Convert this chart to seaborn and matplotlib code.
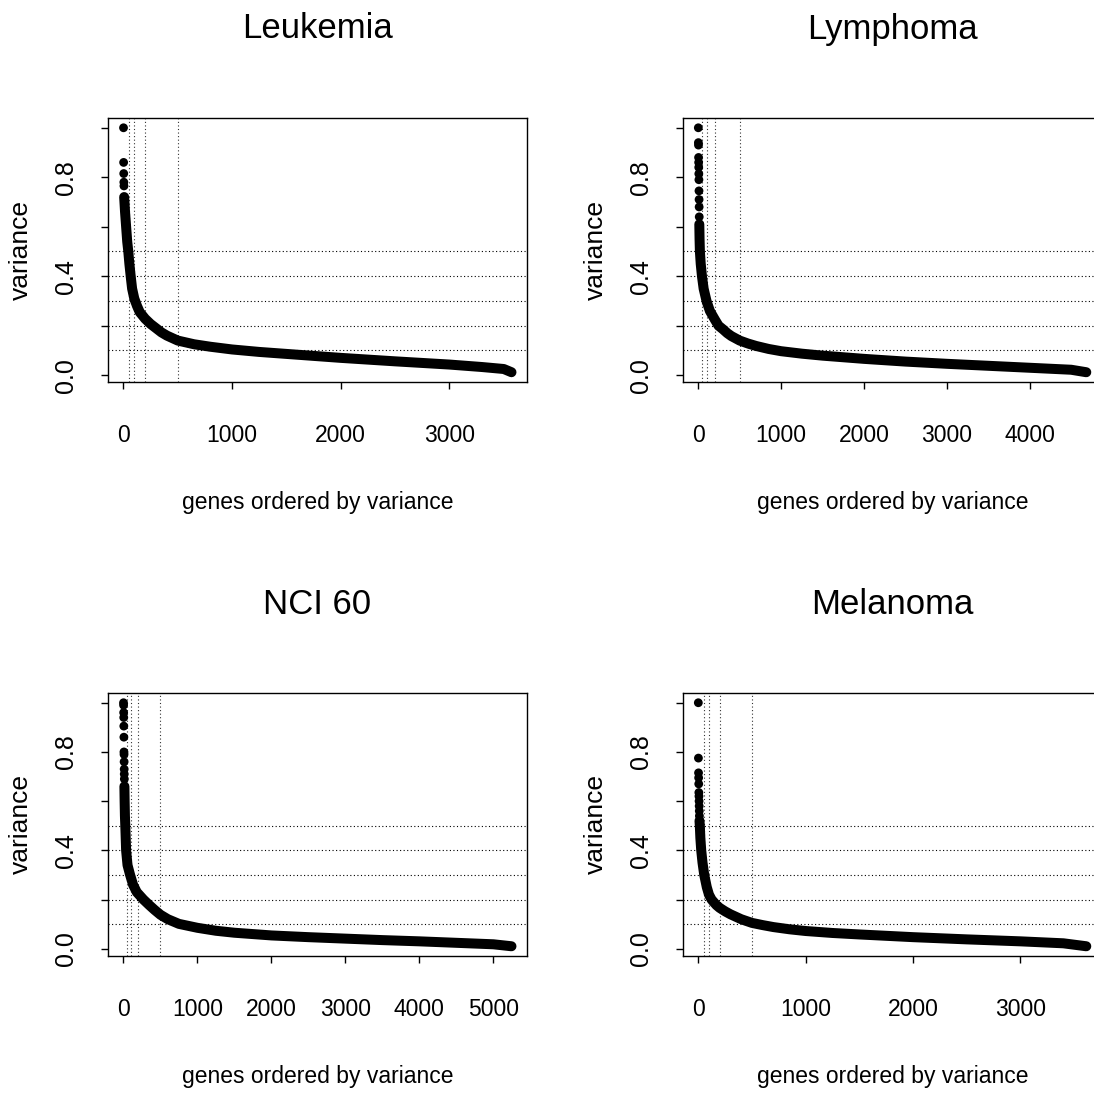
import matplotlib
matplotlib.use("Agg")
import matplotlib.pyplot as plt
from matplotlib import font_manager
import seaborn as sns

# ---- data (gene rank, variance) ----
titles = ["Leukemia", "Lymphoma", "NCI 60", "Melanoma"]
n_genes = [3571, 4682, 5244, 3613]

# isolated top genes, drawn as single dots
leuk_top_rank = [1, 2, 3, 4, 5]
leuk_top_var = [1.0, 0.86, 0.815, 0.78, 0.765]
lymph_top_rank = [1, 2, 3, 4, 5, 6, 7, 8, 9, 10, 11, 12]
lymph_top_var = [1.0, 0.94, 0.93, 0.88, 0.86, 0.84, 0.814, 0.79, 0.745, 0.71, 0.68, 0.64]
nci_top_rank = [1, 2, 3, 4, 5, 6, 7, 8, 9, 10, 11, 12]
nci_top_var = [1.0, 0.99, 0.96, 0.94, 0.905, 0.86, 0.80, 0.79, 0.76, 0.73, 0.71, 0.69]
mel_top_rank = [1, 2, 3, 4, 5, 6, 7, 8, 9, 10, 11]
mel_top_var = [1.0, 0.775, 0.715, 0.695, 0.67, 0.635, 0.62, 0.60, 0.58, 0.56, 0.54]

# the dense part of each curve
leuk_rank = [7, 15, 25, 35, 45, 55, 67, 80, 100, 125, 150, 200, 250, 300, 350, 400, 500,
             650, 800, 1000, 1250, 1500, 2000, 2500, 3000, 3300, 3500, 3571]
leuk_var = [0.72, 0.66, 0.60, 0.54, 0.50, 0.45, 0.40, 0.35, 0.31, 0.28, 0.255, 0.228, 0.207,
            0.19, 0.173, 0.16, 0.14, 0.125, 0.115, 0.104, 0.094, 0.086, 0.07, 0.056, 0.043,
            0.033, 0.025, 0.012]
lymph_rank = [13, 16, 20, 30, 45, 65, 100, 140, 200, 245, 300, 350, 400, 500, 600, 700,
              850, 1000, 1250, 1500, 2000, 2500, 3000, 3500, 4000, 4500, 4682]
lymph_var = [0.61, 0.55, 0.50, 0.45, 0.40, 0.35, 0.30, 0.26, 0.225, 0.20, 0.185, 0.17,
             0.158, 0.14, 0.128, 0.118, 0.106, 0.097, 0.087, 0.079, 0.066, 0.055, 0.046,
             0.038, 0.03, 0.022, 0.012]
nci_rank = [13, 16, 20, 25, 36, 55, 90, 130, 180, 270, 350, 420, 500, 600, 750, 1000, 1250,
            1500, 2000, 2500, 3000, 3500, 4000, 4500, 5000, 5244]
nci_var = [0.66, 0.60, 0.54, 0.50, 0.40, 0.34, 0.30, 0.26, 0.23, 0.20, 0.177, 0.158, 0.138,
           0.12, 0.101, 0.085, 0.073, 0.065, 0.054, 0.047, 0.041, 0.035, 0.03, 0.024,
           0.018, 0.01]
mel_rank = [12, 15, 20, 28, 40, 56, 80, 100, 124, 170, 200, 250, 300, 400, 500, 600, 700,
            850, 1000, 1250, 1500, 2000, 2500, 3000, 3400, 3613]
mel_var = [0.52, 0.50, 0.45, 0.40, 0.35, 0.30, 0.25, 0.22, 0.20, 0.177, 0.166, 0.152,
           0.14, 0.12, 0.105, 0.096, 0.088, 0.079, 0.072, 0.064, 0.058, 0.047, 0.038,
           0.03, 0.022, 0.01]

h_cuts = [0.1, 0.2, 0.3, 0.4, 0.5]
v_cuts = [50, 100, 200, 500]

panels = [
    (leuk_top_rank, leuk_top_var, leuk_rank, leuk_var),
    (lymph_top_rank, lymph_top_var, lymph_rank, lymph_var),
    (nci_top_rank, nci_top_var, nci_rank, nci_var),
    (mel_top_rank, mel_top_var, mel_rank, mel_var),
]

sns.set_style("ticks")
plt.rcParams["font.family"] = ["Liberation Sans", "DejaVu Sans"]
plt.rcParams["text.color"] = "black"
plt.rcParams["xtick.color"] = "black"
plt.rcParams["ytick.color"] = "black"

# look for a narrow sans face; the reference text is condensed
narrow_path = None
for f in font_manager.fontManager.ttflist:
    if f.name == "Liberation Sans Narrow" and f.weight in (400, "normal", "regular") \
            and f.style == "normal":
        narrow_path = f.fname
        break
if narrow_path:
    narrow = font_manager.FontProperties(fname=narrow_path)
    title_size, tick_size, lab_size = 28, 18, 18
else:
    narrow = font_manager.FontProperties(family="Liberation Sans")
    title_size, tick_size, lab_size = 25, 16.5, 16.5

W, H = 1094, 1093
fig = plt.figure(figsize=(W / 100, H / 100), dpi=100)

# box positions in pixels: left, top, width, height
boxes = [(108, 118, 419, 264), (682.8, 118, 419, 264),
         (108, 693, 419, 263), (682.8, 693, 419, 263)]

for i, (box, name, n) in enumerate(zip(boxes, titles, n_genes)):
    left, top, bw, bh = box
    ax = fig.add_axes([left / W, 1 - (top + bh) / H, bw / W, bh / H])
    top_rank, top_var, rank, var = panels[i]

    for c in h_cuts:
        ax.axhline(c, color="black", lw=0.8, linestyle=(0, (1, 2.2)), zorder=1)
    for c in v_cuts:
        ax.axvline(c, color="#333333", lw=0.8, linestyle=(0, (1, 2.2)), zorder=1)

    sns.lineplot(x=rank, y=var, ax=ax, color="black", linewidth=7.2,
                 solid_capstyle="round", solid_joinstyle="round", zorder=3)
    sns.scatterplot(x=top_rank, y=top_var, ax=ax, color="black", s=40,
                    edgecolor="none", zorder=3)

    # R-style 4% padding
    ymin = min(var)
    ymax = max(top_var)
    r = ymax - ymin
    ax.set_xlim(1 - 0.04 * (n - 1), n + 0.04 * (n - 1))
    ax.set_ylim(ymin - 0.04 * r, ymax + 0.04 * r)

    xt = list(range(0, n + 1, 1000))
    ax.set_xticks(xt)
    ax.set_xticklabels([str(t) for t in xt], fontproperties=narrow, fontsize=tick_size)
    ax.set_yticks([0.0, 0.2, 0.4, 0.6, 0.8, 1.0])
    ax.set_yticklabels(["0.0", "", "0.4", "", "0.8", ""], rotation=90,
                       va="center", fontsize=18)
    ax.tick_params(axis="x", length=5, width=1, color="black", pad=25)
    ax.tick_params(axis="y", length=5, width=1, color="black", pad=16.5)
    for sp in ax.spines.values():
        sp.set_visible(True)
        sp.set_color("black")
        sp.set_linewidth(1.0)
    ax.set_xlabel("")
    ax.set_ylabel("")

    cx = left + bw / 2
    fig.text(cx / W, 1 - (top - 89) / H, name, ha="center", va="center",
             fontproperties=narrow, fontsize=title_size)
    fig.text(cx / W, 1 - (top + bh + 120) / H, "genes ordered by variance",
             ha="center", va="center", fontproperties=narrow, fontsize=lab_size)
    fig.text((left - 87) / W, 1 - (top + bh / 2) / H, "variance", rotation=90,
             ha="center", va="center", fontsize=19)

fig.savefig("out.png", dpi=100)
